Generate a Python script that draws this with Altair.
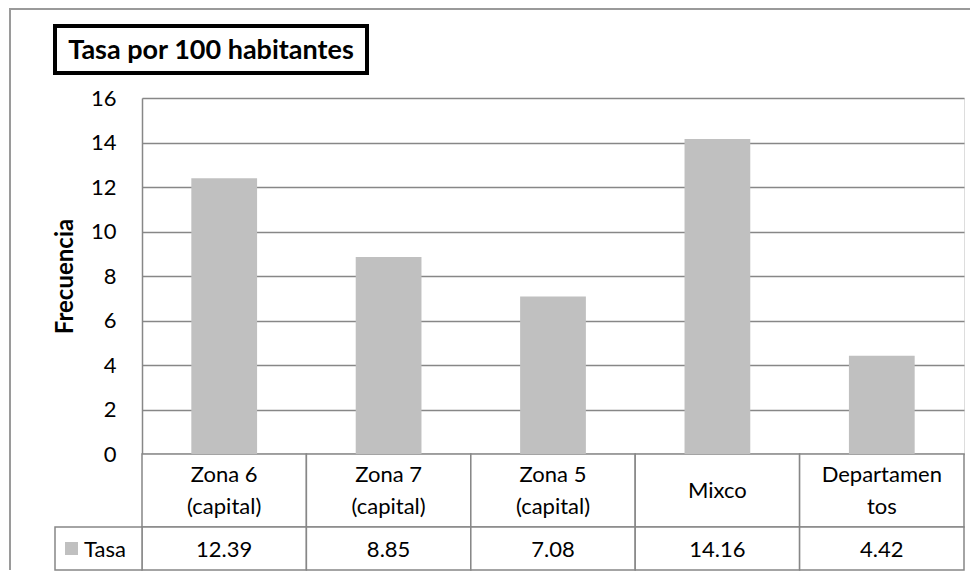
import altair as alt
import pandas as pd

categories = ["Zona 6\n(capital)", "Zona 7\n(capital)", "Zona 5\n(capital)", "Mixco", "Departamen\ntos"]
values = [12.39, 8.85, 7.08, 14.16, 4.42]
series_name = "Tasa"
chart_title = "Tasa por 100 habitantes"
y_title = "Frecuencia"
y_ticks = [0, 2, 4, 6, 8, 10, 12, 14, 16]

FONT = "Lato"
GRID = "#878787"
BAR = "#C0C0C0"

df = pd.DataFrame({"cat": categories, "val": values})
df["txt"] = [f"{v:.2f}" for v in values]

W, H = 822, 356
ROW1_BOTTOM = 429
ROW2_BOTTOM = 472
LH = 32

xenc = alt.X("cat:N", sort=categories, axis=None,
             scale=alt.Scale(paddingInner=0, paddingOuter=0))

bars = alt.Chart(df).mark_bar(color=BAR, width=alt.RelativeBandSize(0.4)).encode(
    x=xenc,
    y=alt.Y("val:Q", scale=alt.Scale(domain=[0, 16], nice=False),
            axis=alt.Axis(values=y_ticks, title=y_title, grid=True, gridColor=GRID,
                          gridWidth=1.5, domain=True, domainColor=GRID, domainWidth=1.5,
                          ticks=False, labelPadding=26, labelFontSize=22, labelColor="#000",
                          labelFont=FONT, titleFont=FONT, titleFontSize=24,
                          titleFontWeight="bold", titleColor="#000", titlePadding=13)),
)

cells1 = alt.Chart(df).mark_rect(fill="white", stroke=GRID, strokeWidth=1.5).encode(
    x=xenc, y=alt.value(H), y2=alt.value(ROW1_BOTTOM))
cells2 = alt.Chart(df).mark_rect(fill="white", stroke=GRID, strokeWidth=1.5).encode(
    x=xenc, y=alt.value(ROW1_BOTTOM), y2=alt.value(ROW2_BOTTOM))

ymid1 = (H + ROW1_BOTTOM) / 2
cat_text2 = alt.Chart(df).transform_filter("indexof(datum.cat, '\\n') >= 0").mark_text(
    font=FONT, fontSize=22, color="#000", lineBreak="\n", lineHeight=LH,
    baseline="middle", dy=-LH / 2).encode(
    x=xenc, y=alt.value(ymid1), text="cat:N")
cat_text1 = alt.Chart(df).transform_filter("indexof(datum.cat, '\\n') < 0").mark_text(
    font=FONT, fontSize=22, color="#000", baseline="middle").encode(
    x=xenc, y=alt.value(ymid1), text="cat:N")
val_text = alt.Chart(df).mark_text(font=FONT, fontSize=22, color="#000", baseline="middle").encode(
    x=xenc, y=alt.value((ROW1_BOTTOM + ROW2_BOTTOM) / 2 + 1), text="txt:N")

hdr = pd.DataFrame({"name": [series_name]})
hdr_cell = alt.Chart(hdr).mark_rect(fill="white", stroke=GRID, strokeWidth=1.5).encode(
    x=alt.value(-87), x2=alt.value(0), y=alt.value(ROW1_BOTTOM), y2=alt.value(ROW2_BOTTOM))
hdr_sq = alt.Chart(hdr).mark_square(color=BAR, size=170, opacity=1).encode(
    x=alt.value(-70.5), y=alt.value((ROW1_BOTTOM + ROW2_BOTTOM) / 2))
hdr_text = alt.Chart(hdr).mark_text(font=FONT, fontSize=22, color="#000", align="left",
                                    baseline="middle").encode(
    x=alt.value(-58), y=alt.value((ROW1_BOTTOM + ROW2_BOTTOM) / 2 + 1), text="name:N")

ttl = pd.DataFrame({"t": [chart_title]})
title_box = alt.Chart(ttl).mark_rect(fill="white", stroke="#000", strokeWidth=4).encode(
    x=alt.value(-87), x2=alt.value(225), y=alt.value(-72), y2=alt.value(-25))
title_text = alt.Chart(ttl).mark_text(font=FONT, fontSize=27, fontWeight="bold", color="#000",
                                      baseline="middle").encode(
    x=alt.value(69), y=alt.value(-47), text="t:N")

frame_top = alt.Chart(ttl).mark_rule(color="#9A9A9A", strokeWidth=2).encode(
    x=alt.value(-133), x2=alt.value(828), y=alt.value(-89))
frame_left = alt.Chart(ttl).mark_rule(color="#9A9A9A", strokeWidth=2).encode(
    x=alt.value(-132), y=alt.value(-89), y2=alt.value(ROW2_BOTTOM))

chart = alt.layer(
    frame_top, frame_left, cells1, cells2, bars, cat_text2, cat_text1, val_text,
    hdr_cell, hdr_sq, hdr_text, title_box, title_text
).properties(width=W, height=H, padding=0).configure_view(stroke=None).configure(background="white")

chart.save("out.html", embed_options={"renderer": "svg", "actions": False})
